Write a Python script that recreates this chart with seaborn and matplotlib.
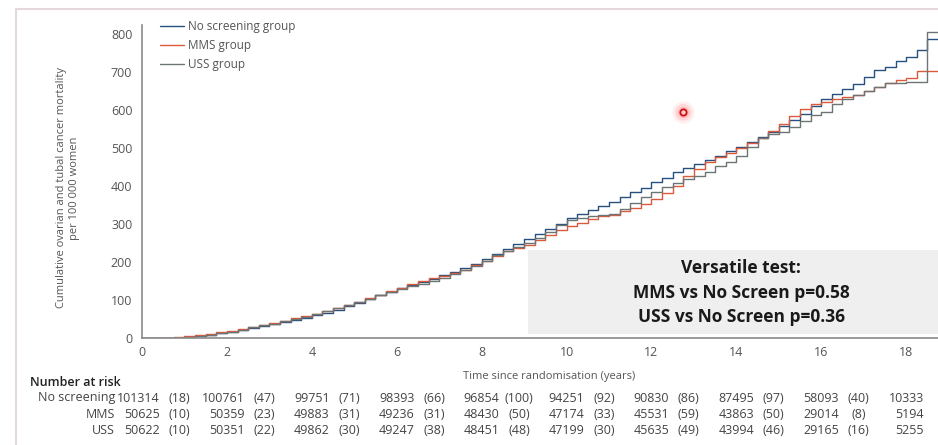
import numpy as np
import pandas as pd
import matplotlib
matplotlib.use("Agg")
import matplotlib.pyplot as plt
from matplotlib.lines import Line2D
from matplotlib.patches import Rectangle
import matplotlib.transforms as mtransforms
import seaborn as sns

# ---------------- data ----------------
group_names = ["No screening group", "MMS group", "USS group"]
time_years = np.arange(0, 18.76, 0.25)

no_screening_mortality = [
    0, 0, 0, 1,
    3, 5, 8, 12,
    17, 21, 26, 31,
    36, 41, 47, 53,
    60, 67, 75, 84,
    93, 102, 112, 122,
    131, 139, 147, 156,
    165, 175, 185, 196,
    208, 221, 235, 248,
    260, 273, 287, 301,
    315, 326, 337, 347,
    357, 370, 383, 396,
    410, 422, 436, 448,
    458, 468, 479, 491,
    503, 516, 529, 543,
    558, 574, 590, 610,
    628, 641, 654, 668,
    688, 705, 714, 728,
    740, 758, 786, 786,
]
mms_mortality = [
    0, 0, 0, 2,
    4, 7, 11, 15,
    19, 24, 30, 35,
    40, 46, 52, 57,
    63, 70, 78, 87,
    96, 105, 114, 123,
    131, 141, 150, 157,
    163, 171, 180, 191,
    203, 215, 228, 238,
    245, 258, 272, 285,
    295, 302, 312, 320,
    325, 333, 343, 352,
    365, 382, 400, 425,
    445, 462, 475, 488,
    500, 512, 527, 545,
    562, 585, 603, 615,
    620, 628, 633, 640,
    650, 660, 670, 680,
    685, 702, 702, 702,
]
uss_mortality = [
    0, 0, 0, 1,
    3, 5, 9, 13,
    17, 22, 28, 33,
    38, 44, 50, 56,
    62, 70, 78, 86,
    94, 103, 112, 121,
    128, 136, 143, 150,
    158, 168, 178, 190,
    203, 218, 230, 240,
    250, 264, 280, 297,
    310, 315, 320, 323,
    327, 340, 355, 370,
    384, 397, 408, 418,
    425, 438, 452, 462,
    480, 503, 525, 536,
    542, 556, 572, 587,
    595, 615, 628, 640,
    650, 660, 670, 672,
    674, 674, 805, 805,
]

risk_times = [0, 2, 4, 6, 8, 10, 12, 14, 16, 18]
risk_labels = ["No screening", "MMS", "USS"]
no_screening_at_risk = [101314, 100761, 99751, 98393, 96854, 94251, 90830, 87495, 58093, 10333]
no_screening_events = [18, 47, 71, 66, 100, 92, 86, 97, 40]
mms_at_risk = [50625, 50359, 49883, 49236, 48430, 47174, 45531, 43863, 29014, 5194]
mms_events = [10, 23, 31, 31, 50, 33, 59, 50, 8]
uss_at_risk = [50622, 50351, 49862, 49247, 48451, 47199, 45635, 43994, 29165, 5255]
uss_events = [10, 22, 30, 38, 48, 30, 49, 46, 16]

y_ticks = [0, 100, 200, 300, 400, 500, 600, 700, 800]
x_ticks = [0, 2, 4, 6, 8, 10, 12, 14, 16, 18]
test_lines = ["Versatile test:", "MMS vs No Screen p=0.58", "USS vs No Screen p=0.36"]

# ---------------- style ----------------
sns.set_style("white")
plt.rcParams["font.family"] = ["Open Sans", "DejaVu Sans"]

W, H = 938, 445
fig = plt.figure(figsize=(W / 100, H / 100), dpi=100)

def fx(px):
    return px / W

def fy(py):
    return 1 - py / H

ax_left, ax_right = 142, 938
ax_top, ax_bottom = 25, 338
ax = fig.add_axes([fx(ax_left), fy(ax_bottom), fx(ax_right - ax_left), (ax_bottom - ax_top) / H])

df = pd.DataFrame({
    "time": np.concatenate([time_years] * 3),
    "mortality": no_screening_mortality + mms_mortality + uss_mortality,
    "group": np.repeat(group_names, len(time_years)),
})
palette = {"No screening group": "#27507e", "MMS group": "#dc5a3c", "USS group": "#6d7474"}
sns.lineplot(data=df, x="time", y="mortality", hue="group", hue_order=group_names,
             palette=palette, estimator=None, drawstyle="steps-post",
             linewidth=1.0, ax=ax, legend=False)

ax.set_xlim(0, 18.75)
ax.set_ylim(0, (ax_bottom - ax_top) / 0.38)
ax.set_xticks(x_ticks)
ax.set_yticks(y_ticks)
ax.set_xlabel("")
ax.set_ylabel("")
for s in ["top", "right"]:
    ax.spines[s].set_visible(False)
for s in ["left", "bottom"]:
    ax.spines[s].set_color("#8a8a8a")
    ax.spines[s].set_linewidth(1.2)
ax.tick_params(axis="both", which="both", direction="out", length=3.6, width=1.0,
               color="#8a8a8a", labelcolor="#555555", labelsize=9)
ax.tick_params(axis="y", pad=3.4)
ax.tick_params(axis="x", pad=2.0)

# legend
handles = [Line2D([], [], color=palette[g], lw=1.0) for g in group_names]
leg = ax.legend(handles, group_names, loc="upper left",
                bbox_to_anchor=(fx(160), fy(20)), bbox_transform=fig.transFigure,
                frameon=False, fontsize=8.5, handlelength=2.0, handletextpad=0.35,
                labelspacing=0.5, borderaxespad=0, borderpad=0)
for t in leg.get_texts():
    t.set_color("#555555")

# axis labels
fig.text(fx(68), fy(188), "Cumulative ovarian and tubal cancer mortality\nper 100 000 women",
         rotation=90, ha="center", va="center", fontsize=8, color="#555555",
         linespacing=1.35)
fig.text(fx(549), fy(376), "Time since randomisation (years)", ha="center", va="center",
         fontsize=8, color="#555555")

# test box
fig.patches.append(Rectangle((fx(528), fy(334)), fx(938 - 528), (334 - 250) / H,
                             transform=fig.transFigure, facecolor="#efefef",
                             edgecolor="none", zorder=3))
for txt, py in zip(test_lines, [268, 293, 317]):
    fig.text(fx(741), fy(py), txt, ha="center", va="center", fontsize=12.5,
             fontweight="bold", color="#1a1a1a", zorder=4)

# number at risk table
fig.text(fx(30), fy(382), "Number at risk", ha="left", va="center", fontsize=9,
         color="#222222", fontweight="semibold")
blend = mtransforms.blended_transform_factory(ax.transData, fig.transFigure)
rows = [
    (no_screening_at_risk, no_screening_events, 398),
    (mms_at_risk, mms_events, 414),
    (uss_at_risk, uss_events, 430),
]
for label, (risk, events, py) in zip(risk_labels, rows):
    fig.text(fx(115), fy(py), label, ha="right", va="center", fontsize=9, color="#444444")
    for t, n in zip(risk_times, risk):
        ax.text(t + 0.42, fy(py), f"{n}", transform=blend, ha="right", va="center",
                fontsize=9, color="#444444", clip_on=False)
    for t, e in zip(risk_times[:-1], events):
        ax.text(t + 0.88, fy(py), f"({e})", transform=blend, ha="center", va="center",
                fontsize=9, color="#444444", clip_on=False)

# outer frame
fig.lines.append(Line2D([fx(16), fx(16)], [fy(9), 0], transform=fig.transFigure,
                        color="#e4d8da", lw=1.5))
fig.lines.append(Line2D([fx(16), 1], [fy(9), fy(9)], transform=fig.transFigure,
                        color="#e4d8da", lw=1.5))

# cursor highlight
for ms, a in [(16, 0.10), (12, 0.18), (8, 0.3)]:
    fig.lines.append(Line2D([fx(683)], [fy(112)], transform=fig.transFigure, marker="o",
                            markersize=ms, color="#ff6a6a", alpha=a, markeredgewidth=0))
fig.lines.append(Line2D([fx(683)], [fy(112)], transform=fig.transFigure, marker="o",
                        markersize=4.5, markerfacecolor="#ffd0d0", markeredgecolor="#d01010",
                        markeredgewidth=1.3))

fig.savefig("out.png", dpi=100)
